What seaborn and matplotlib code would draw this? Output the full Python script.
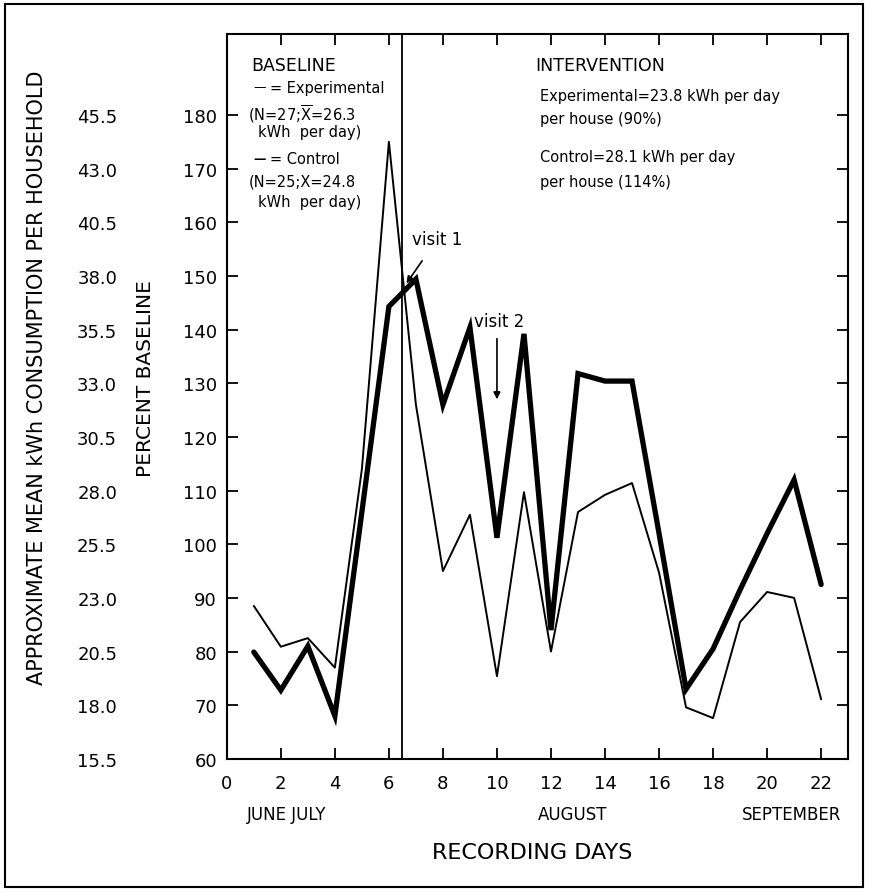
import matplotlib.pyplot as plt
import matplotlib.patches as mpatches
import numpy as np
import pandas as pd
import seaborn as sns

# recording days and percent-of-baseline values
days = list(range(1, 23))
experimental = [88.5, 80.9, 82.5, 77.0, 114.0, 175.0, 126.0, 95.0, 105.5, 75.4, 109.7,
                80.0, 106.0, 109.2, 111.4, 94.7, 69.6, 67.6, 85.5, 91.1, 90.0, 71.1]
control = [79.9, 72.8, 81.0, 68.0, 106.0, 144.3, 149.4, 126.0, 140.4, 101.2, 139.2,
           84.0, 131.8, 130.4, 130.4, 102.0, 73.0, 80.5, 91.5, 102.0, 112.0, 92.5]

pct_ticks = list(range(60, 190, 10))
kwh_ticks = [15.5, 18.0, 20.5, 23.0, 25.5, 28.0, 30.5, 33.0, 35.5, 38.0, 40.5, 43.0, 45.5]
day_ticks = list(range(0, 24, 2))
months = ["JUNE JULY", "AUGUST", "SEPTEMBER"]
month_pos = [2.2, 12.8, 20.9]

df = pd.DataFrame({"day": days, "Experimental": experimental, "Control": control})

sns.set_style("ticks")
plt.rcParams["font.family"] = ["DejaVu Sans"]
plt.rcParams["text.color"] = "black"

fig = plt.figure(figsize=(8.69, 8.95), dpi=100)
ax = fig.add_axes([0.261, 0.151, 0.715, 0.810])

sns.lineplot(data=df, x="day", y="Experimental", ax=ax, color="black", lw=1.4)
sns.lineplot(data=df, x="day", y="Control", ax=ax, color="black", lw=3.8,
             solid_joinstyle="miter")

ax.axvline(6.5, color="black", lw=1.3)

ax.set_xlim(0, 23)
ax.set_ylim(60, 195.1)
ax.set_xticks(day_ticks)
ax.set_yticks(pct_ticks)
ax.tick_params(axis="both", direction="in", length=8, width=1.3, top=True, right=True,
               labelsize=13, colors="black")
ax.tick_params(axis="x", pad=11)
ax.tick_params(axis="y", pad=7)
ax.set_xlabel("")
ax.set_ylabel("")
for s in ax.spines.values():
    s.set_linewidth(1.5)
    s.set_color("black")

# outer kWh scale
kwh = ax.secondary_yaxis(-0.172, functions=(lambda p: 15.5 + (p - 60) * 0.25,
                                            lambda k: 60 + (k - 15.5) * 4))
kwh.set_yticks(kwh_ticks)
kwh.set_yticklabels([f"{v:.1f}" for v in kwh_ticks])
kwh.tick_params(length=0, pad=2, labelsize=13, colors="black")
kwh.spines["left"].set_visible(False)

fig.text(0.043, 0.578, "APPROXIMATE MEAN kWh CONSUMPTION PER HOUSEHOLD",
         rotation=90, ha="center", va="center", fontsize=15)
fig.text(0.167, 0.577, "PERCENT BASELINE", rotation=90, ha="center", va="center",
         fontsize=14.5)

# month labels and x title
for m, p in zip(months, month_pos):
    ax.text(p, -0.076, m, transform=ax.get_xaxis_transform(), ha="center", va="center",
            fontsize=12)
fig.text(0.612, 0.047, "RECORDING DAYS", ha="center", va="center", fontsize=16)

# baseline panel text
ax.text(0.9, 189.3, "BASELINE", fontsize=12.5, va="center")
ax.text(1.0, 185.2, "\u2014", fontsize=9, va="center")
ax.text(1.6, 185.2, "= Experimental", fontsize=10.5, va="center")
ax.text(0.8, 180.4, "(N=27;$\\overline{\\mathrm{X}}$=26.3", fontsize=10.5, va="center")
ax.text(1.15, 176.9, "kWh  per day)", fontsize=10.5, va="center")
ax.text(1.0, 171.8, "\u2014", fontsize=9, va="center", fontweight="bold")
ax.text(1.6, 171.8, "= Control", fontsize=10.5, va="center")
ax.text(0.8, 167.6, "(N=25;X=24.8", fontsize=10.5, va="center")
ax.text(1.15, 163.9, "kWh  per day)", fontsize=10.5, va="center")

# intervention panel text
ax.text(11.4, 189.3, "INTERVENTION", fontsize=12.5, va="center")
int_lines = [(11.6, 183.6, "Experimental=23.8 kWh per day"),
             (11.6, 179.3, "per house (90%)"),
             (11.6, 172.2, "Control=28.1 kWh per day"),
             (11.6, 167.6, "per house (114%)")]
for x, y, t in int_lines:
    ax.text(x, y, t, fontsize=10.5, va="center")

# visit markers
ax.annotate("visit 1", xy=(6.65, 148.6), xytext=(6.85, 156.8), fontsize=12,
            va="center", ha="left",
            arrowprops=dict(arrowstyle="-|>", color="black", lw=1.2,
                            shrinkA=8, shrinkB=0, mutation_scale=10))
ax.text(9.15, 141.6, "visit 2", fontsize=12, va="center", ha="left")
ax.annotate("", xy=(10.0, 127.0), xytext=(10.0, 138.3),
            arrowprops=dict(arrowstyle="-|>", color="black", lw=1.2,
                            shrinkA=0, shrinkB=0, mutation_scale=10))

# scanned page frame
fig.patches.append(mpatches.Rectangle((0.006, 0.008), 0.987, 0.986, transform=fig.transFigure,
                                      fill=False, lw=1.5, edgecolor="black"))

fig.savefig("out.png", dpi=100, facecolor="white")
